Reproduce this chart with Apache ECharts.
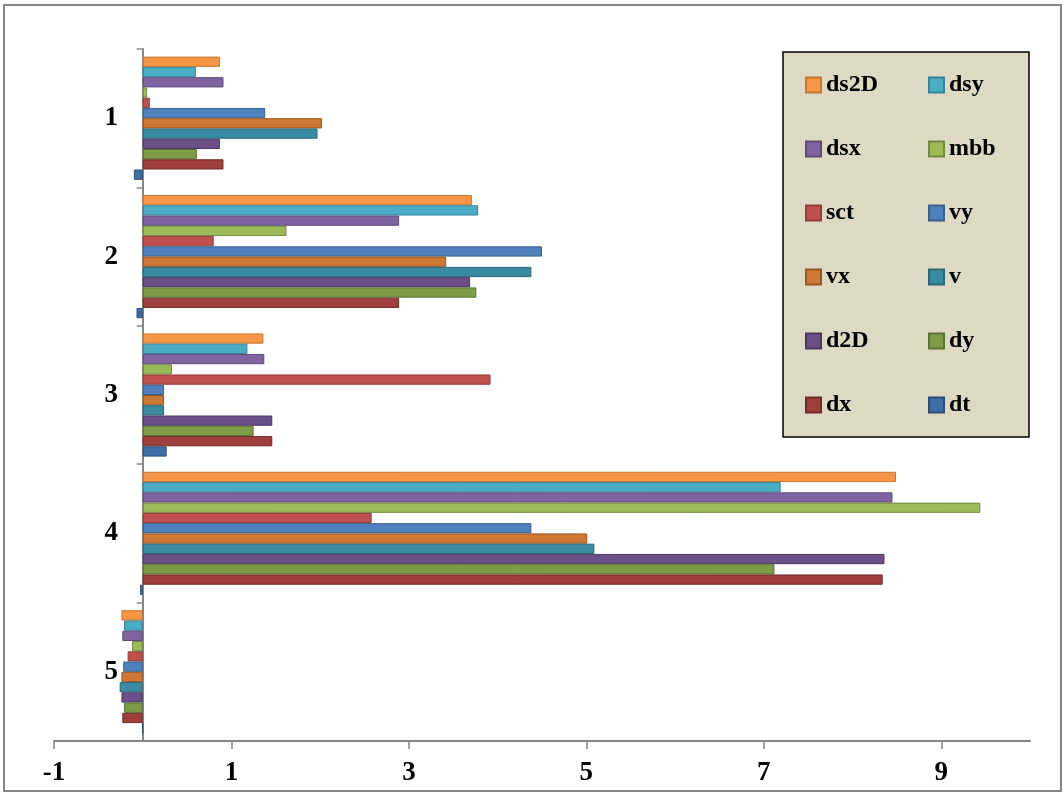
<!DOCTYPE html>
<html>
<head>
<meta charset="utf-8">
<script src="https://cdn.jsdelivr.net/npm/echarts@6/dist/echarts.min.js"></script>
<style>
html,body{margin:0;padding:0;background:#fff;}
#chart{width:1063px;height:793px;}
</style>
</head>
<body>
<div id="chart"></div>
<script>
// Categories (top to bottom)
const categories = ['1', '2', '3', '4', '5'];
// Series names, listed from top bar to bottom bar within each category
const seriesNames = ['ds2D', 'dsy', 'dsx', 'mbb', 'sct', 'vy', 'vx', 'v', 'd2D', 'dy', 'dx', 'dt'];
// Values per series (categories 1..5)
const ds2D = [0.87, 3.71, 1.36, 8.49, -0.24];
const dsy  = [0.60, 3.78, 1.18, 7.19, -0.21];
const dsx  = [0.91, 2.89, 1.37, 8.45, -0.23];
const mbb  = [0.05, 1.62, 0.33, 9.44, -0.12];
const sct  = [0.08, 0.80, 3.92, 2.58, -0.17];
const vy   = [1.38, 4.50, 0.24, 4.38, -0.22];
const vx   = [2.02, 3.42, 0.24, 5.01, -0.24];
const v    = [1.97, 4.38, 0.24, 5.09, -0.26];
const d2D  = [0.87, 3.69, 1.46, 8.36, -0.24];
const dy   = [0.61, 3.76, 1.25, 7.12, -0.21];
const dx   = [0.91, 2.89, 1.46, 8.34, -0.23];
const dt   = [-0.10, -0.07, 0.27, -0.03, 0];
// X axis tick labels
const xTicks = [-1, 1, 3, 5, 7, 9];

const seriesValues = { ds2D, dsy, dsx, mbb, sct, vy, vx, v, d2D, dy, dx, dt };
const colors = {
  ds2D: ['#F79646', '#C9772F'],
  dsy:  ['#4BACC6', '#35869C'],
  dsx:  ['#8064A2', '#5E4A7A'],
  mbb:  ['#9BBB59', '#728A40'],
  sct:  ['#C0504D', '#943B39'],
  vy:   ['#4F81BD', '#3A6090'],
  vx:   ['#CD7835', '#9A5620'],
  v:    ['#3A8BA1', '#28687A'],
  d2D:  ['#6A5087', '#4A3762'],
  dy:   ['#7E9C48', '#5A7232'],
  dx:   ['#9E3F3D', '#712A28'],
  dt:   ['#3F6DA5', '#2B4D78']
};

const fontFamily = "'Liberation Serif', 'Times New Roman', serif";

const chart = echarts.init(document.getElementById('chart'), null, { renderer: 'canvas' });

const series = seriesNames.map(name => ({
  name: name,
  type: 'bar',
  data: seriesValues[name],
  barGap: '0%',
  barCategoryGap: '11%',
  itemStyle: {
    color: colors[name][0],
    borderColor: colors[name][1],
    borderWidth: 1
  },
  emphasis: { disabled: true }
}));

const option = {
  animation: false,
  backgroundColor: '#ffffff',
  grid: { left: 54, right: 33, top: 49, bottom: 52, containLabel: false },
  xAxis: {
    type: 'value',
    min: -1,
    max: 10,
    interval: 2,
    axisLine: { show: true, onZero: false, lineStyle: { color: '#868686', width: 2 } },
    axisTick: { show: true, length: 8, customValues: xTicks, lineStyle: { color: '#868686', width: 1.5 } },
    axisLabel: {
      customValues: xTicks,
      margin: 19,
      color: '#000',
      fontFamily: fontFamily,
      fontWeight: 'bold',
      fontSize: 27
    },
    splitLine: { show: false }
  },
  yAxis: {
    type: 'category',
    data: categories,
    inverse: true,
    axisLine: { show: true, onZero: true, lineStyle: { color: '#868686', width: 2 } },
    axisTick: { show: true, length: 6, lineStyle: { color: '#868686', width: 1.5 } },
    axisLabel: {
      margin: -64,
      align: 'right',
      color: '#000',
      fontFamily: fontFamily,
      fontWeight: 'bold',
      fontSize: 27
    },
    splitLine: { show: false }
  },
  legend: {
    data: seriesNames,
    orient: 'horizontal',
    left: 783,
    top: 52,
    width: 210,
    padding: [20, 16, 19, 22],
    itemGap: 38,
    itemWidth: 15,
    itemHeight: 15,
    icon: 'rect',
    backgroundColor: '#DDD9C3',
    borderColor: '#000000',
    borderWidth: 1.5,
    selectedMode: false,
    textStyle: {
      color: '#000',
      fontFamily: fontFamily,
      fontWeight: 'bold',
      fontSize: 24,
      width: 64,
      lineHeight: 26
    }
  },
  graphic: [{
    type: 'rect',
    shape: { x: 4, y: 5, width: 1057, height: 786 },
    style: { fill: 'none', stroke: '#868686', lineWidth: 2 },
    silent: true,
    z: 100
  }],
  series: series
};

chart.setOption(option);
</script>
</body>
</html>
